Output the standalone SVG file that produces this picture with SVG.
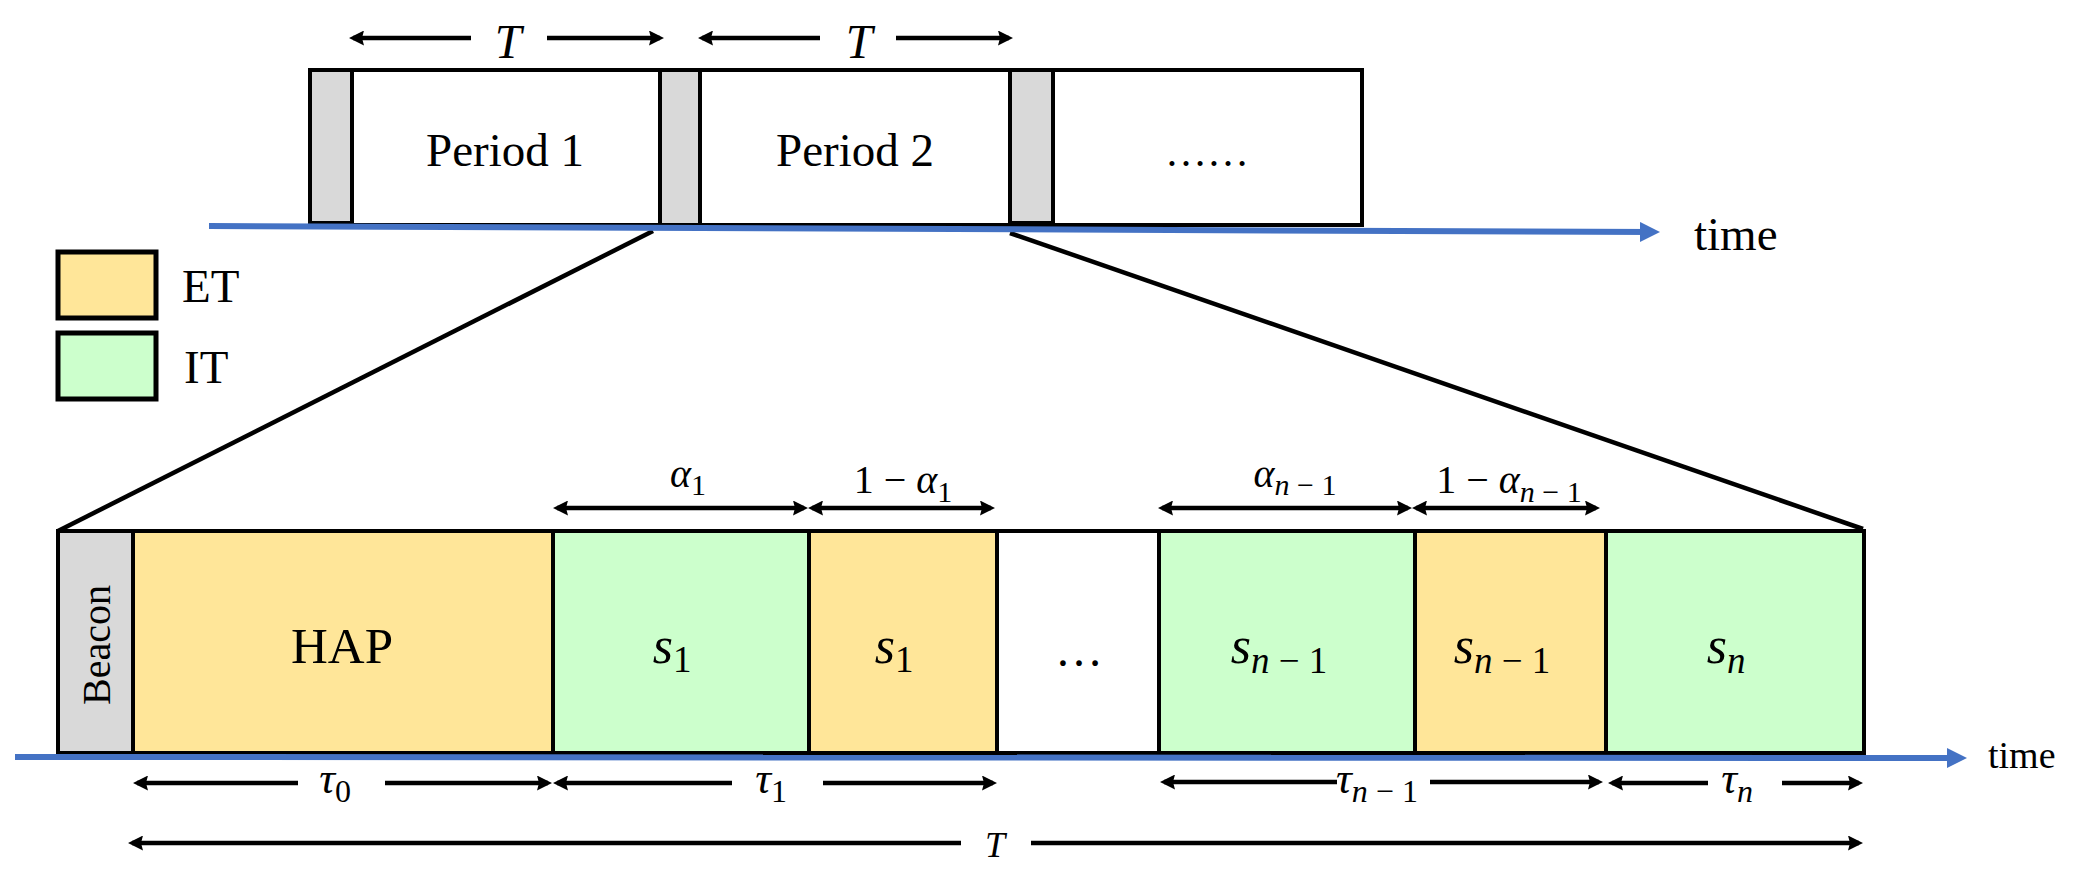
<svg xmlns="http://www.w3.org/2000/svg" width="2076" height="879" viewBox="0 0 2076 879">
<style>
.t{font-family:"Liberation Serif","Times New Roman",serif;fill:#000}
.i{font-style:italic}
.box{stroke:#000;stroke-width:4}
.gray{fill:#D9D9D9}
.yel{fill:#FFE699}
.grn{fill:#CCFFCC}
.wht{fill:#FFFFFF}
.arr{stroke:#000;stroke-width:4.5;fill:none}
.blue{stroke:#4472C4;stroke-width:6;fill:none}
.diag{stroke:#000;stroke-width:4.5;fill:none}
</style>
<defs>
<marker id="ah" viewBox="0 0 15 15" refX="11" refY="7.5" markerWidth="15" markerHeight="15" markerUnits="userSpaceOnUse" orient="auto-start-reverse"><path d="M0,0 L15,7.5 L0,15 L2,7.5 z" fill="#000"/></marker>
<marker id="bh" viewBox="0 0 20 20" refX="14" refY="10" markerWidth="20" markerHeight="20" markerUnits="userSpaceOnUse" orient="auto"><path d="M0,0 L20,10 L0,20 z" fill="#4472C4"/></marker>
</defs>
<rect width="2076" height="879" fill="#fff"/>

<!-- top periods -->
<g id="top-frame">
<rect class="box wht" x="310" y="70" width="1052" height="155"/>
</g>
<g id="gap1"><rect class="box gray" x="310" y="70" width="42" height="153"/></g>
<g id="period1"><text class="t" x="505" y="166" font-size="47" text-anchor="middle">Period 1</text></g>
<g id="gap2"><rect class="box gray" x="660" y="70" width="40" height="155"/></g>
<g id="period2"><text class="t" x="855" y="166" font-size="47" text-anchor="middle">Period 2</text></g>
<g id="gap3"><rect class="box gray" x="1010" y="70" width="43" height="153"/></g>
<g id="period-more"><text class="t" x="1207" y="166" font-size="42" text-anchor="middle">……</text></g>

<!-- legend -->
<g id="legend-et">
<rect class="yel" x="58" y="252" width="98" height="66" stroke="#000" stroke-width="5"/>
<text class="t" x="182" y="302" font-size="47">ET</text>
</g>
<g id="legend-it">
<rect class="grn" x="58" y="333" width="98" height="66" stroke="#000" stroke-width="5"/>
<text class="t" x="184" y="383" font-size="47">IT</text>
</g>

<!-- bottom frame -->
<g id="beacon">
<rect class="box gray" x="58" y="531" width="75" height="222"/>
<text class="t" transform="translate(110,645) rotate(-90)" font-size="40" text-anchor="middle">Beacon</text>
</g>
<g id="hap">
<rect class="box yel" x="133" y="531" width="420" height="222"/>
<text class="t" x="342" y="663" font-size="51" text-anchor="middle">HAP</text>
</g>
<g id="s1-it">
<rect class="box grn" x="553" y="531" width="256" height="222"/>
<text class="t" x="672" y="663" font-size="52" text-anchor="middle"><tspan class="i">s</tspan><tspan font-size="37" dy="9">1</tspan></text>
</g>
<g id="s1-et">
<rect class="box yel" x="809" y="531" width="188" height="222"/>
<text class="t" x="894" y="663" font-size="52" text-anchor="middle"><tspan class="i">s</tspan><tspan font-size="37" dy="9">1</tspan></text>
</g>
<g id="gap-dots">
<line x1="997" y1="531" x2="1159" y2="531" stroke="#000" stroke-width="4"/>
<line x1="997" y1="753" x2="1159" y2="753" stroke="#000" stroke-width="4"/>
<text class="t" x="1079" y="666" font-size="48" text-anchor="middle">…</text>
</g>
<g id="sn1-it">
<rect class="box grn" x="1159" y="531" width="256" height="222"/>
<text class="t" x="1279" y="663" font-size="52" text-anchor="middle"><tspan class="i">s</tspan><tspan font-size="37" dy="10"><tspan class="i">n</tspan> − 1</tspan></text>
</g>
<g id="sn1-et">
<rect class="box yel" x="1415" y="531" width="191" height="222"/>
<text class="t" x="1502" y="663" font-size="52" text-anchor="middle"><tspan class="i">s</tspan><tspan font-size="37" dy="10"><tspan class="i">n</tspan> − 1</tspan></text>
</g>
<g id="sn-it">
<rect class="box grn" x="1606" y="531" width="258" height="222"/>
<text class="t" x="1726" y="663" font-size="52" text-anchor="middle"><tspan class="i">s</tspan><tspan class="i" font-size="37" dy="10">n</tspan></text>
</g>

<!-- connectors -->
<g id="connectors">
<line class="diag" x1="653" y1="231" x2="58" y2="531"/>
<line class="diag" x1="1010" y1="233" x2="1863" y2="529"/>
<line class="blue" x1="209" y1="226" x2="1654" y2="232" marker-end="url(#bh)"/>
<line class="blue" x1="15" y1="757" x2="1961" y2="758" marker-end="url(#bh)"/>

<line class="arr" x1="471" y1="38" x2="353" y2="38" marker-end="url(#ah)"/>
<line class="arr" x1="547" y1="38" x2="660" y2="38" marker-end="url(#ah)"/>
<line class="arr" x1="820" y1="38" x2="702" y2="38" marker-end="url(#ah)"/>
<line class="arr" x1="896" y1="38" x2="1009" y2="38" marker-end="url(#ah)"/>

<line class="arr" x1="557" y1="508" x2="804" y2="508" marker-start="url(#ah)" marker-end="url(#ah)"/>
<line class="arr" x1="812" y1="508" x2="991" y2="508" marker-start="url(#ah)" marker-end="url(#ah)"/>
<line class="arr" x1="1162" y1="508" x2="1408" y2="508" marker-start="url(#ah)" marker-end="url(#ah)"/>
<line class="arr" x1="1416" y1="508" x2="1596" y2="508" marker-start="url(#ah)" marker-end="url(#ah)"/>

<line class="arr" x1="298" y1="783" x2="137" y2="783" marker-end="url(#ah)"/>
<line class="arr" x1="385" y1="783" x2="548" y2="783" marker-end="url(#ah)"/>
<line class="arr" x1="732" y1="783" x2="557" y2="783" marker-end="url(#ah)"/>
<line class="arr" x1="823" y1="783" x2="993" y2="783" marker-end="url(#ah)"/>
<line class="arr" x1="1337" y1="782" x2="1164" y2="782" marker-end="url(#ah)"/>
<line class="arr" x1="1430" y1="782" x2="1599" y2="782" marker-end="url(#ah)"/>
<line class="arr" x1="1708" y1="783" x2="1612" y2="783" marker-end="url(#ah)"/>
<line class="arr" x1="1782" y1="783" x2="1859" y2="783" marker-end="url(#ah)"/>

<line class="arr" x1="961" y1="843" x2="132" y2="843" marker-end="url(#ah)"/>
<line class="arr" x1="1031" y1="843" x2="1859" y2="843" marker-end="url(#ah)"/>
</g>

<!-- labels -->
<g id="labels">
<text class="t i" x="508" y="58" font-size="48" text-anchor="middle">T</text>
<text class="t i" x="859" y="58" font-size="48" text-anchor="middle">T</text>
<text class="t" x="1694" y="250" font-size="47">time</text>
<text class="t" x="1988" y="768" font-size="38">time</text>

<text class="t" x="688" y="487" font-size="40" text-anchor="middle"><tspan class="i">α</tspan><tspan font-size="30" dy="8">1</tspan></text>
<text class="t" x="903" y="493" font-size="40" text-anchor="middle">1 − <tspan class="i">α</tspan><tspan font-size="30" dy="9">1</tspan></text>
<text class="t" x="1295" y="487" font-size="40" text-anchor="middle"><tspan class="i">α</tspan><tspan font-size="30" dy="8"><tspan class="i">n</tspan> − 1</tspan></text>
<text class="t" x="1509" y="493" font-size="40" text-anchor="middle">1 − <tspan class="i">α</tspan><tspan font-size="30" dy="9"><tspan class="i">n</tspan> − 1</tspan></text>

<text class="t" x="335" y="793" font-size="44" text-anchor="middle"><tspan class="i">τ</tspan><tspan font-size="32" dy="9">0</tspan></text>
<text class="t" x="771" y="793" font-size="44" text-anchor="middle"><tspan class="i">τ</tspan><tspan font-size="32" dy="9">1</tspan></text>
<text class="t" x="1377" y="793" font-size="44" text-anchor="middle"><tspan class="i">τ</tspan><tspan font-size="32" dy="9"><tspan class="i">n</tspan> − 1</tspan></text>
<text class="t" x="1737" y="793" font-size="44" text-anchor="middle"><tspan class="i">τ</tspan><tspan class="i" font-size="32" dy="9">n</tspan></text>
<text class="t i" x="995" y="857" font-size="36" text-anchor="middle">T</text>
</g>
</svg>
